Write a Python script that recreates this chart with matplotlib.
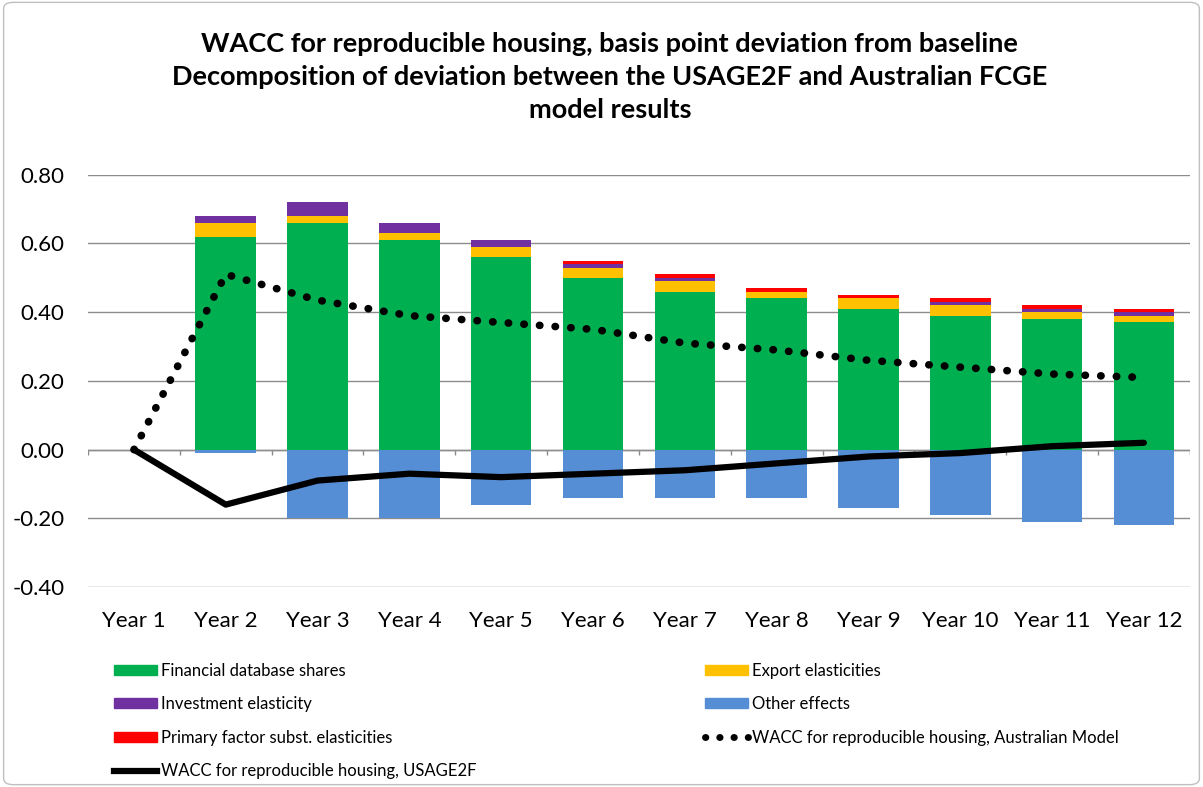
import numpy as np
import matplotlib.pyplot as plt
from matplotlib.patches import FancyBboxPatch
from matplotlib.lines import Line2D
from matplotlib.patches import Patch

plt.rcParams['font.family'] = ['Lato', 'DejaVu Sans']

years = ["Year %d" % i for i in range(1, 13)]

financial = [0.00, 0.62, 0.66, 0.61, 0.56, 0.50, 0.46, 0.44, 0.41, 0.39, 0.38, 0.37]
export = [0.00, 0.04, 0.02, 0.02, 0.03, 0.03, 0.03, 0.02, 0.03, 0.03, 0.02, 0.02]
investment = [0.00, 0.02, 0.04, 0.03, 0.02, 0.01, 0.01, 0.00, 0.00, 0.01, 0.01, 0.01]
primary = [0.00, 0.00, 0.00, 0.00, 0.00, 0.01, 0.01, 0.01, 0.01, 0.01, 0.01, 0.01]
other = [0.00, -0.01, -0.20, -0.20, -0.16, -0.14, -0.14, -0.14, -0.17, -0.19, -0.21, -0.22]

wacc_aus = [0.00, 0.51, 0.435, 0.39, 0.37, 0.35, 0.31, 0.29, 0.26, 0.24, 0.22, 0.21]
wacc_usage = [0.00, -0.16, -0.09, -0.07, -0.08, -0.07, -0.06, -0.04, -0.02, -0.01, 0.01, 0.02]

green = "#00B050"
yellow = "#FFC000"
purple = "#7030A0"
blue = "#558ED5"
red = "#FF0000"
gridc = "#8C8C8C"

fig = plt.figure(figsize=(12.03, 7.87), dpi=100)
ax = fig.add_axes([0.0732, 0.254, 0.9158, 0.524])

x = np.arange(len(years))
w = 0.66
b1 = np.array(financial)
b2 = b1 + np.array(export)
b3 = b2 + np.array(investment)

ax.bar(x, financial, w, color=green, zorder=2)
ax.bar(x, export, w, bottom=b1, color=yellow, zorder=2)
ax.bar(x, investment, w, bottom=b2, color=purple, zorder=2)
ax.bar(x, primary, w, bottom=b3, color=red, zorder=2)
ax.bar(x, other, w, color=blue, zorder=2)

ax.plot(x, wacc_aus, color="black", linewidth=5.5,
        linestyle=(0, (0.05, 2.0)), dash_capstyle="round", zorder=4)
ax.plot(x, wacc_usage, color="black", linewidth=4.5,
        solid_capstyle="round", solid_joinstyle="round", zorder=4)

ax.set_xlim(-0.5, len(years) - 0.5)
ax.set_ylim(-0.4, 0.8)
ax.set_yticks(np.arange(-0.4, 0.81, 0.2))
ax.set_yticklabels(["%.2f" % v for v in np.arange(-0.4, 0.81, 0.2)])
ax.set_xticks(x)
ax.set_xticklabels(years)
ax.tick_params(axis="both", length=0, labelsize=16, colors="black")
ax.tick_params(axis="x", pad=17)
ax.tick_params(axis="y", pad=17)
ax.yaxis.grid(True, color=gridc, linewidth=1.0)
ax.set_axisbelow(True)
for s in ax.spines.values():
    s.set_visible(False)

# category axis at zero with tick marks between categories
ax.axhline(0, color=gridc, linewidth=1.0, zorder=1)
ax.vlines(np.arange(-0.5, len(years)), 0, -0.015, color=gridc, linewidth=1.0, zorder=1)

fig.text(0.507, 0.959,
         "WACC for reproducible housing, basis point deviation from baseline\n"
         "Decomposition of deviation between the USAGE2F and Australian FCGE\n"
         "model results",
         ha="center", va="top", fontsize=19.5, fontweight="bold", linespacing=1.45)

handles = [
    Patch(color=green, label="Financial database shares"),
    Patch(color=purple, label="Investment elasticity"),
    Patch(color=red, label="Primary factor subst. elasticities"),
    Line2D([], [], color="black", linewidth=4.5, label="WACC for reproducible housing, USAGE2F"),
    Patch(color=yellow, label="Export elasticities"),
    Patch(color=blue, label="Other effects"),
    Line2D([], [], color="black", linewidth=5, linestyle=(0, (0.05, 2.0)),
           dash_capstyle="round", label="WACC for reproducible housing, Australian Model"),
]
fig.legend(handles=handles, ncol=2, loc="upper left", bbox_to_anchor=(0.082, 0.177),
           frameon=False, fontsize=12, handlelength=2.6, handleheight=0.55,
           handletextpad=0.25, labelspacing=1.05, columnspacing=13.7)

fig.patches.append(FancyBboxPatch((0.003, 0.003), 0.994, 0.994, transform=fig.transFigure,
                                  boxstyle="round,pad=0,rounding_size=0.008",
                                  facecolor="none", edgecolor="#BFBFBF", linewidth=1.0))

fig.savefig("out.png", dpi=100)
